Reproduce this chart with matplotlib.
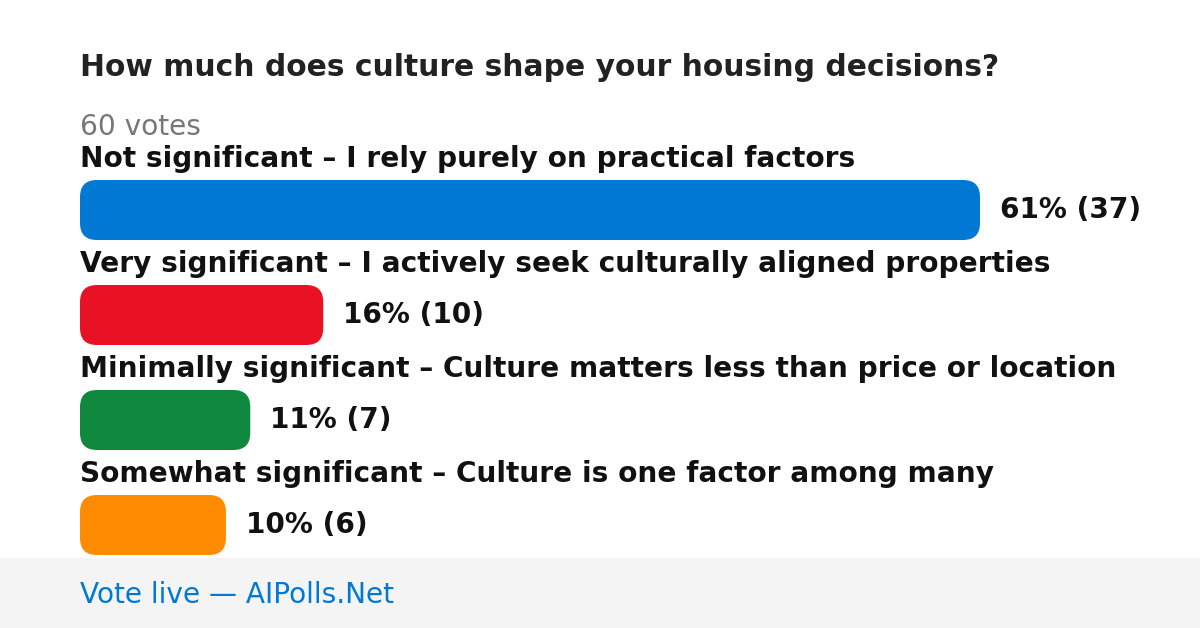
import matplotlib.pyplot as plt
from matplotlib.patches import FancyBboxPatch, Rectangle

plt.rcParams['font.family'] = ['DejaVu Sans']

title = "How much does culture shape your housing decisions?"
total_votes = 60
options = [
    "Not significant – I rely purely on practical factors",
    "Very significant – I actively seek culturally aligned properties",
    "Minimally significant – Culture matters less than price or location",
    "Somewhat significant – Culture is one factor among many",
]
votes = [37, 10, 7, 6]
percents = [61, 16, 11, 10]
colors = ["#0078d4", "#e81224", "#10893e", "#ff8c00"]

fig = plt.figure(figsize=(12, 6.28), dpi=100)
ax = fig.add_axes([0, 0, 1, 1])
ax.set_xlim(0, 1200)
ax.set_ylim(628, 0)
ax.axis("off")

# title and vote count
ax.text(80, 68, title, fontsize=21.4, fontweight="bold", color="#222222", va="center")
ax.text(80, 127, f"{total_votes} votes", fontsize=20.2, color="#777777", va="center")

# bars
left = 80
max_w = 900
bar_h = 60
top0 = 180
step = 105
for i, (lab, v, p, c) in enumerate(zip(options, votes, percents, colors)):
    top = top0 + i * step
    w = max_w * v / max(votes)
    ax.text(left, top - 21, lab, fontsize=20.2, fontweight="bold", color="#111111", va="center")
    box = FancyBboxPatch((left, top), w, bar_h, boxstyle="round,pad=0,rounding_size=17",
                         facecolor=c, edgecolor="none")
    ax.add_patch(box)
    ax.text(left + w + 20, top + bar_h / 2, f"{p}% ({v})", fontsize=20.2, fontweight="bold",
            color="#111111", va="center")

# footer
ax.add_patch(Rectangle((0, 558), 1200, 70, facecolor="#f4f4f4", edgecolor="none"))
ax.text(80, 595, "Vote live — AIPolls.Net", fontsize=20.2, color="#0078d4", va="center")

fig.savefig("out.png", dpi=100)
